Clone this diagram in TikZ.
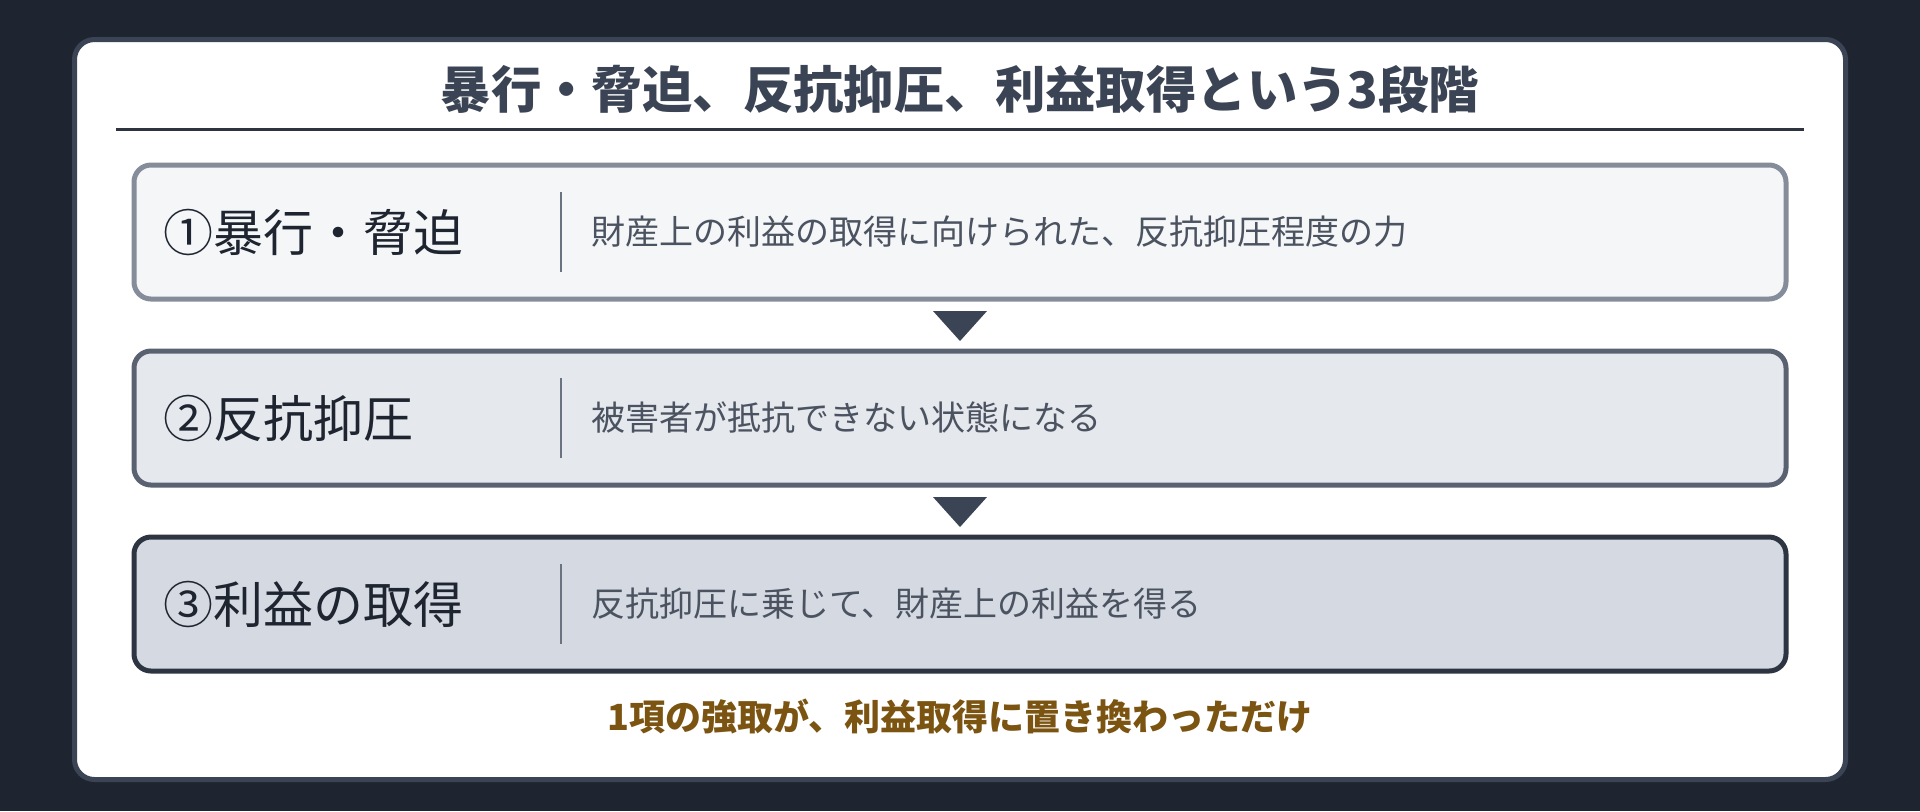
\documentclass[tikz,border=0pt]{standalone}
\usepackage{fontspec}
\setmainfont{Noto Sans CJK JP}
\usetikzlibrary{positioning,calc}
\definecolor{bgdark}{HTML}{1F2530}
\definecolor{cardline}{HTML}{3B4454}
\definecolor{titletext}{HTML}{3B4454}
\definecolor{rulecol}{HTML}{2D3440}
\definecolor{boxaline}{HTML}{858D9A}
\definecolor{boxafill}{HTML}{F4F6F8}
\definecolor{boxbline}{HTML}{5A6272}
\definecolor{boxbfill}{HTML}{E5E8ED}
\definecolor{boxcline}{HTML}{2E3542}
\definecolor{boxcfill}{HTML}{D5DAE2}
\definecolor{nametext}{HTML}{1F2530}
\definecolor{desctext}{HTML}{4B5260}
\definecolor{sepgray}{HTML}{6B7280}
\definecolor{arrowgray}{HTML}{3B4454}
\definecolor{notebrown}{HTML}{7B5412}
\tikzset{
  stagebox/.style={draw, rounded corners=8.5pt, line width=2.5pt,
    minimum width=826pt, minimum height=67pt, inner sep=0pt, outer sep=0pt},
  stagename/.style={anchor=west, inner sep=0pt, text=nametext,
    font=\fontsize{25}{29}\selectfont},
  stagedesc/.style={anchor=west, inner sep=0pt, text=desctext,
    font=\fontsize{17}{20}\selectfont},
  sepline/.style={draw=sepgray, line width=1pt},
  stepmark/.style={fill=arrowgray},
}
\begin{document}
\begin{tikzpicture}[x=0.5pt,y=-0.5pt]
\fill[bgdark] (0,0) rectangle (1920,811);
\useasboundingbox (0,0) rectangle (1920,811);
% card and title
\draw[draw=cardline, fill=white, line width=2.5pt, rounded corners=10pt]
  (74.5,39.5) rectangle (1845.5,779.5);
\node[text=titletext, font=\fontsize{25.2}{29}\selectfont\bfseries] (title) at (960,89)
  {暴行・脅迫、反抗抑圧、利益取得という3段階};
\draw[rulecol, line width=1.2pt] (116,129.5) -- (1804,129.5);
% the three stages
\node[stagebox, draw=boxaline, fill=boxafill] (s1) at (960,232) {};
\node[stagebox, draw=boxbline, fill=boxbfill] (s2) at (960,418) {};
\node[stagebox, draw=boxcline, fill=boxcfill] (s3) at (960,604) {};
\node[stagename] (n1) at (163,232) {①暴行・脅迫};
\node[stagename] (n2) at (163,418) {②反抗抑圧};
\node[stagename] (n3) at (163,604) {③利益の取得};
\draw[sepline] (561,192) -- (561,272);
\draw[sepline] (561,378) -- (561,458);
\draw[sepline] (561,564) -- (561,644);
\node[stagedesc] (d1) at (591,232) {財産上の利益の取得に向けられた、反抗抑圧程度の力};
\node[stagedesc] (d2) at (591,418) {被害者が抵抗できない状態になる};
\node[stagedesc] (d3) at (591,604) {反抗抑圧に乗じて、財産上の利益を得る};
% arrows between stages
\fill[stepmark] ($(s1.south)+(-27,12)$) -- ++(54,0) -- ++(-27,30) -- cycle;
\fill[stepmark] ($(s2.south)+(-27,12)$) -- ++(54,0) -- ++(-27,30) -- cycle;
% note
\node[text=notebrown, font=\fontsize{18}{22}\selectfont\bfseries] (note) at (960,716)
  {1項の強取が、利益取得に置き換わっただけ};
\end{tikzpicture}
\end{document}
